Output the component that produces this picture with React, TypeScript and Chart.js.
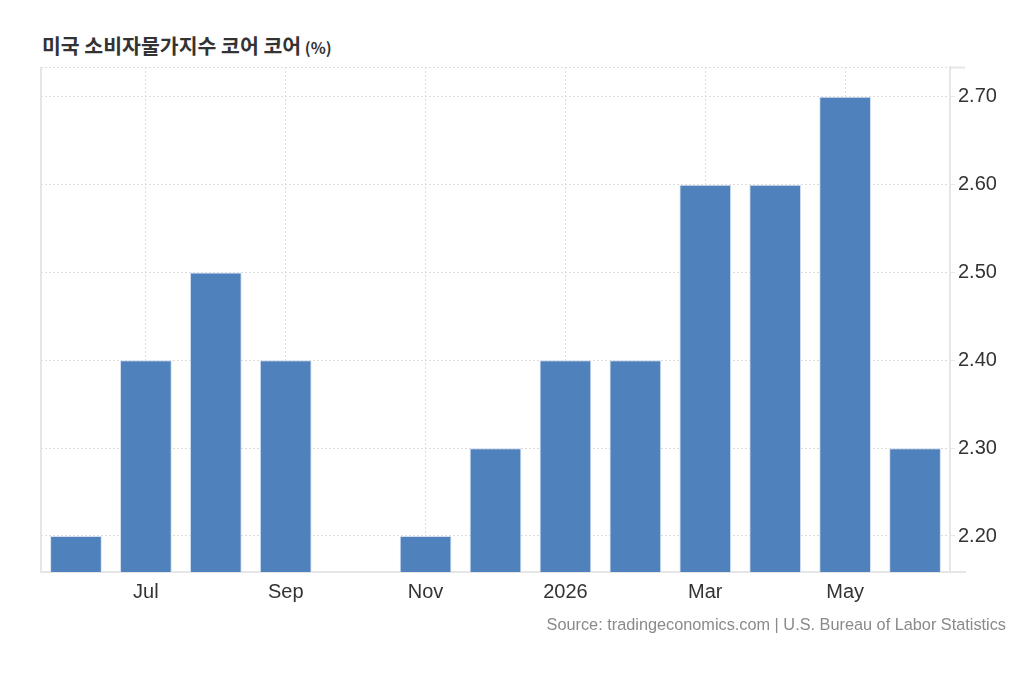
import React, { useEffect, useRef } from 'react';
import { Chart, registerables } from 'chart.js';

Chart.register(...registerables);

const categories = ['Jun', 'Jul', 'Aug', 'Sep', 'Oct', 'Nov', 'Dec', '2026', 'Feb', 'Mar', 'Apr', 'May', 'Jun'];
const values: (number | null)[] = [2.2, 2.4, 2.5, 2.4, null, 2.2, 2.3, 2.4, 2.4, 2.6, 2.6, 2.7, 2.3];
const yTicks = [2.2, 2.3, 2.4, 2.5, 2.6, 2.7];
const yMin = 2.159;
const yMax = 2.734;
const labeledIndices = [1, 3, 5, 7, 9, 11];

const titleText = '미국 소비자물가지수 코어 코어';
const unitText = '(%)';
const sourceText = 'Source: tradingeconomics.com | U.S. Bureau of Labor Statistics';

const FONT = '"Liberation Sans", Arial, Helvetica, sans-serif';

const framePlugin = {
  id: 'frame',
  beforeDatasetsDraw(chart: any) {
    const { ctx, chartArea } = chart;
    const { left, top, right, bottom } = chartArea;
    ctx.save();
    ctx.strokeStyle = '#e6e6e6';
    ctx.lineWidth = 2;
    ctx.beginPath();
    ctx.moveTo(left, top);
    ctx.lineTo(left, bottom);
    ctx.stroke();
    ctx.beginPath();
    ctx.moveTo(right, bottom);
    ctx.lineTo(right + 16, bottom);
    ctx.moveTo(right, top + 0.5);
    ctx.lineTo(right + 15, top + 0.5);
    ctx.stroke();
    ctx.setLineDash([2, 2]);
    ctx.strokeStyle = '#dcdcdc';
    ctx.lineWidth = 1;
    ctx.beginPath();
    ctx.moveTo(left, top + 0.5);
    ctx.lineTo(right, top + 0.5);
    ctx.stroke();
    ctx.restore();
  },
};

export default function App() {
  const ref = useRef<HTMLCanvasElement>(null);

  useEffect(() => {
    const chart = new Chart(ref.current as HTMLCanvasElement, {
      type: 'bar',
      data: {
        labels: categories,
        datasets: [
          {
            data: values,
            backgroundColor: '#4f81bd',
            borderColor: '#d3dff0',
            borderWidth: 1,
            barPercentage: 0.74,
            categoryPercentage: 1,
          },
        ],
      },
      options: {
        animation: false,
        responsive: false,
        maintainAspectRatio: false,
        devicePixelRatio: 1,
        layout: { padding: { left: 33, top: 3, right: 0, bottom: 0 } },
        plugins: {
          legend: { display: false },
          tooltip: { enabled: false },
        },
        scales: {
          x: {
            afterBuildTicks: (scale: any) => {
              scale.ticks = scale.ticks.filter((t: any) => labeledIndices.includes(t.value));
            },
            afterFit: (scale: any) => {
              scale.height = 46;
            },
            grid: {
              offset: false,
              color: '#dcdcdc',
              lineWidth: 1,
              drawTicks: false,
            },
            border: { display: true, color: '#e6e6e6', width: 2, dash: [2, 2] },
            ticks: {
              autoSkip: false,
              maxRotation: 0,
              padding: 8,
              color: '#333333',
              font: { family: FONT, size: 20 },
              callback: function (this: any, value: any) {
                return this.getLabelForValue(value);
              },
            },
          },
          y: {
            position: 'right',
            min: yMin,
            max: yMax,
            afterBuildTicks: (scale: any) => {
              scale.ticks = yTicks.map((v) => ({ value: v }));
            },
            afterFit: (scale: any) => {
              scale.width = 66;
            },
            grid: {
              color: '#dcdcdc',
              lineWidth: 1,
              drawTicks: true,
              tickLength: 5,
              tickColor: '#e6e6e6',
            },
            border: { display: true, color: '#e6e6e6', width: 2, dash: [2, 2] },
            ticks: {
              padding: 3,
              color: '#333333',
              font: { family: FONT, size: 20 },
              callback: (value: any) => Number(value).toFixed(2),
            },
          },
        },
      },
      plugins: [framePlugin],
    } as any);
    return () => chart.destroy();
  }, []);

  return (
    <div style={{ position: 'relative', width: 1008, height: 684, background: '#ffffff' }}>
      <div
        style={{
          position: 'absolute',
          left: 34,
          top: 25,
          lineHeight: '24px',
          whiteSpace: 'nowrap',
          color: '#333333',
          fontFamily: '"Noto Sans CJK KR", "Noto Sans", sans-serif',
          fontWeight: 700,
        }}
      >
        <span style={{ fontSize: 20.5 }}>{titleText}</span>{' '}
        <span style={{ fontSize: 15.6 }}>{unitText}</span>
      </div>
      <div style={{ position: 'absolute', left: 0, top: 44, width: 1008, height: 566 }}>
        <canvas ref={ref} width={1008} height={566} style={{ display: 'block' }} />
      </div>
      <div
        style={{
          position: 'absolute',
          right: 10,
          top: 607,
          lineHeight: '18px',
          whiteSpace: 'nowrap',
          color: '#8a8a8a',
          fontFamily: FONT,
          fontSize: 16.3,
        }}
      >
        {sourceText}
      </div>
    </div>
  );
}
